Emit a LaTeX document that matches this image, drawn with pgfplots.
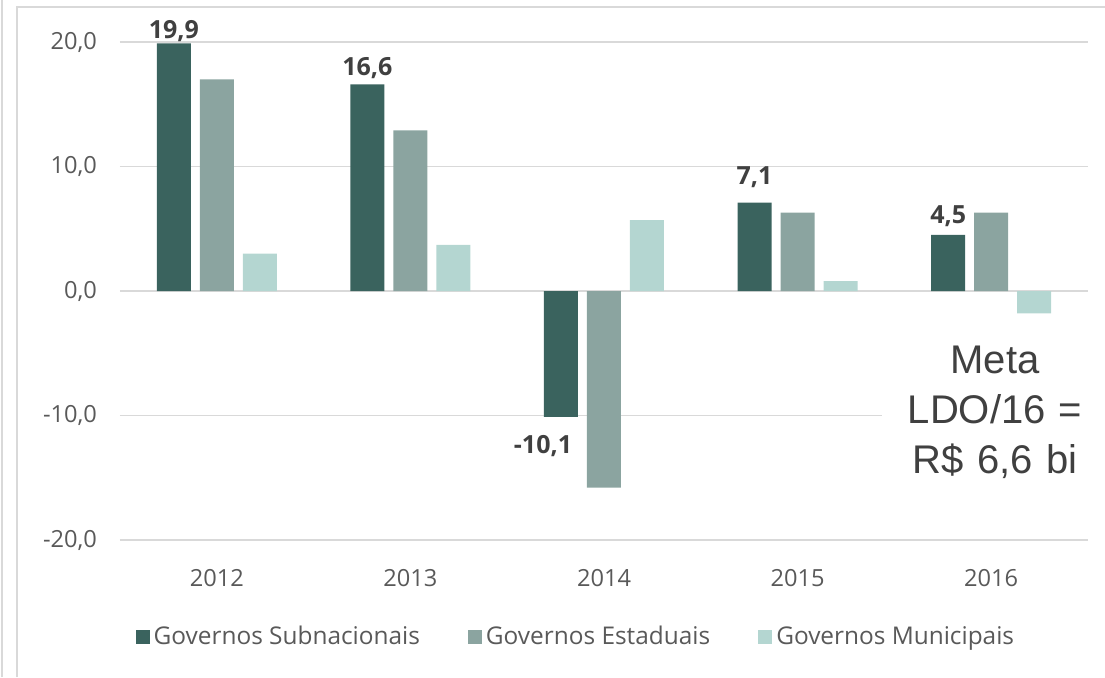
\documentclass[border=0pt]{standalone}
\usepackage{pgfplots}
\pgfplotsset{compat=1.18}
\usepackage{pgfplotstable}
\usepackage{fontspec}
\setmainfont{Open Sans}
\newfontfamily\arialfont{Liberation Sans}
\definecolor{cdark}{RGB}{58,99,94}
\definecolor{cmed}{RGB}{139,164,160}
\definecolor{clight}{RGB}{180,214,209}
\definecolor{cgrid}{RGB}{217,217,217}
\definecolor{ctext}{RGB}{89,89,89}
\definecolor{clabel}{RGB}{64,64,64}

\pgfplotstableread{
x y dx dy
0 19.9 0 0.5
1 16.6 0 2.5
2 -10.1 -9 -9
3 7.1 0 7
4 4.5 0 4
}\subn
\pgfplotstableread{
x y
0 17.0
1 12.9
2 -15.8
3 6.3
4 6.3
}\estad
\pgfplotstableread{
x y
0 3.0
1 3.7
2 5.7
3 0.8
4 -1.8
}\munic

\begin{document}
\begin{tikzpicture}
\path[use as bounding box] (0,0) rectangle (552.5pt,-338.5pt);
\draw[cgrid, line width=0.8pt] (8.5pt,-338.5pt) -- (8.5pt,-3.5pt) -- (552.5pt,-3.5pt);
\draw[cgrid, line width=0.8pt] (1pt,-338.5pt) -- (1pt,0pt);
\begin{axis}[
  at={(60pt,-270pt)}, anchor=south west,
  scale only axis,
  width=484pt, height=249pt,
  xmin=-0.5, xmax=4.5, ymin=-20, ymax=20,
  ybar=4.5pt, bar width=17pt,
  axis line style={draw=none},
  tick style={draw=none},
  xtick={0,1,2,3,4},
  xticklabels={2012,2013,2014,2015,2016},
  ytick={-20,-10,0,10,20},
  yticklabels={{-20,0},{-10,0},{0,0},{10,0},{20,0}},
  ymajorgrids,
  grid style={cgrid, line width=0.9pt},
  tick label style={font=\fontsize{11.8}{13}\selectfont, text=ctext},
  yticklabel style={xshift=-8pt},
  xticklabel style={yshift=-7pt},
  clip=false,
  legend columns=3,
  legend style={at={(0.472,-0.195)}, anchor=center, draw=none, fill=none,
    font=\fontsize{12.2}{13}\selectfont, text=ctext,
    /tikz/every even column/.append style={column sep=22pt}},
  legend image code/.code={\fill[#1,draw=none] (0pt,-3.5pt) rectangle (7pt,3.5pt);},
]
\addplot[fill=cdark, draw=none,
  visualization depends on={\thisrow{dx} \as \dx},
  visualization depends on={\thisrow{dy} \as \dy},
  nodes near coords={\pgfmathprintnumber[fixed,fixed zerofill,precision=1,use comma]{\pgfplotspointmeta}},
  nodes near coords style={font=\fontsize{12.5}{14}\selectfont\bfseries, text=clabel, inner sep=0pt, xshift=\dx pt, yshift=\dy pt, /pgf/number format/assume math mode=true},
] table[x=x,y=y] {\subn};
\addplot[fill=cmed, draw=none] table[x=x,y=y] {\estad};
\addplot[fill=clight, draw=none] table[x=x,y=y] {\munic};
\legend{Governos Subnacionais, Governos Estaduais, Governos Municipais}
\node[fill=white, inner sep=0pt, text width=113pt, align=center, text=clabel,
  font=\arialfont\fontsize{20}{25}\selectfont] at (axis cs:4.02,-9.75)
  {Meta\\LDO/16 =\\R\$ 6,6 bi};
\end{axis}
\end{tikzpicture}
\end{document}
